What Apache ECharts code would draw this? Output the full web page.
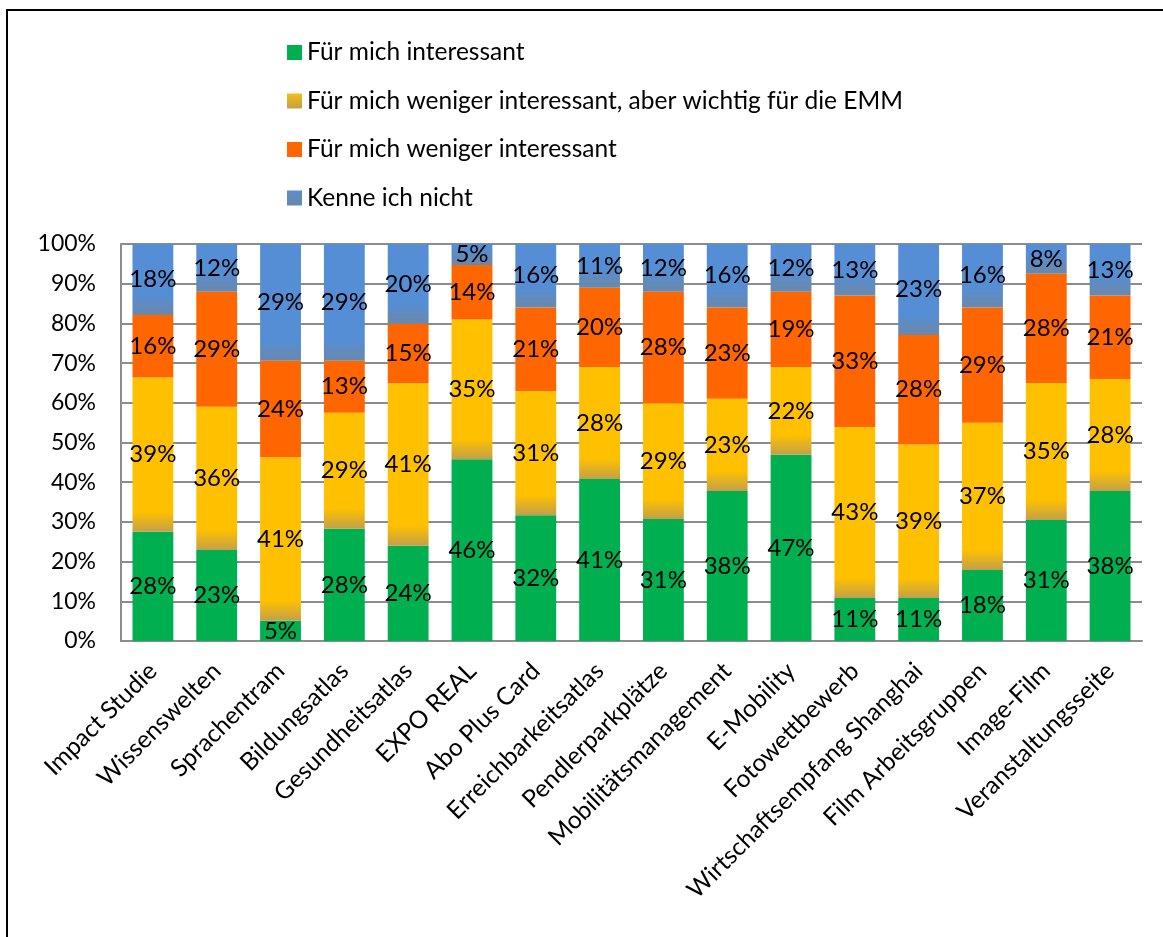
<!DOCTYPE html>
<html>
<head>
<meta charset="utf-8">
<script src="https://cdn.jsdelivr.net/npm/echarts@6/dist/echarts.min.js"></script>
<style>
  html, body { margin: 0; padding: 0; background: #fff; }
  #chart { width: 1163px; height: 937px; }
</style>
</head>
<body>
<div id="chart"></div>
<script>
// Survey: interest in EMM projects (shares in percent)
const categories = [
  'Impact Studie', 'Wissenswelten', 'Sprachentram', 'Bildungsatlas',
  'Gesundheitsatlas', 'EXPO REAL', 'Abo Plus Card', 'Erreichbarkeitsatlas',
  'Pendlerparkplätze', 'Mobilitätsmanagement', 'E-Mobility', 'Fotowettbewerb',
  'Wirtschaftsempfang Shanghai', 'Film Arbeitsgruppen', 'Image-Film', 'Veranstaltungsseite'
];

const seriesNames = [
  'Für mich interessant',
  'Für mich weniger interessant, aber wichtig für die EMM',
  'Für mich weniger interessant',
  'Kenne ich nicht'
];

const interessant   = [27.5, 22.9, 5.1, 28.3, 24.0, 45.8, 31.7, 40.8, 30.7, 37.8, 46.9, 10.8, 10.8, 17.9, 30.5, 37.8];
const wichtigEMM    = [38.9, 36.1, 41.2, 29.2, 40.9, 35.2, 31.3, 28.2, 29.2, 23.2, 22.1, 43.1, 38.7, 37.1, 34.5, 28.2];
const wenigerInter  = [15.7, 29.0, 24.3, 13.1, 15.0, 13.7, 21.0, 20.0, 28.1, 23.0, 19.0, 33.1, 27.6, 29.0, 27.5, 21.0];
const kenneNicht    = [17.9, 12.0, 29.4, 29.4, 20.1, 5.3, 16.0, 11.0, 12.0, 16.0, 12.0, 13.0, 22.9, 16.0, 7.5, 13.0];

const yTicks = [0, 10, 20, 30, 40, 50, 60, 70, 80, 90, 100];

const FONT = 'Lato, "Open Sans", sans-serif';
const GREEN = '#00B050';
const GOLD = '#FFC000';
const GOLD_DARK = '#C2A04A';
const ORANGE = '#FF6600';
const BLUE = '#558ED5';
const BLUE_DARK = '#6B88A8';

// plot height in px divided by 100 %, used to keep the shaded foot band a fixed size
const PX_PER_PERCENT = 397 / 100;
const BAND_PX = 20;

function shadedFoot(main, dark, v) {
  const f = Math.min(0.9, BAND_PX / Math.max(v * PX_PER_PERCENT, 1));
  return new echarts.graphic.LinearGradient(0, 0, 0, 1, [
    { offset: 0, color: main },
    { offset: 1 - f, color: main },
    { offset: 1, color: dark }
  ]);
}

function shadedData(values, main, dark) {
  return values.map(v => ({ value: v, itemStyle: { color: shadedFoot(main, dark, v) } }));
}

const labelStyle = {
  show: true,
  position: 'inside',
  color: '#000',
  fontFamily: FONT,
  fontSize: 24,
  formatter: p => Math.round(p.value) + '%'
};

function barSeries(name, data, color) {
  return {
    name: name,
    type: 'bar',
    stack: 'total',
    barWidth: '64%',
    data: data,
    itemStyle: { color: color },
    label: labelStyle,
    emphasis: { disabled: true }
  };
}

const chart = echarts.init(document.getElementById('chart'), null, { renderer: 'canvas' });

chart.setOption({
  animation: false,
  backgroundColor: '#fff',
  textStyle: { fontFamily: FONT },
  graphic: [{
    type: 'rect',
    shape: { x: 7, y: 10, width: 1300, height: 1100 },
    style: { fill: 'none', stroke: '#000', lineWidth: 2 },
    silent: true
  }],
  legend: {
    orient: 'vertical',
    left: 282,
    top: 35,
    itemWidth: 15,
    itemHeight: 15,
    itemGap: 23.5,
    icon: 'rect',
    data: seriesNames,
    textStyle: { color: '#000', fontFamily: FONT, fontSize: 24.5, lineHeight: 24.5 }
  },
  grid: {
    left: 121,
    right: 21,
    top: 244,
    bottom: 296,
    containLabel: false,
    outerBoundsMode: 'none'
  },
  xAxis: {
    type: 'category',
    data: categories,
    axisLine: { lineStyle: { color: '#8C8C8C', width: 2 } },
    axisTick: { show: false },
    axisLabel: {
      rotate: 45,
      interval: 0,
      margin: 26,
      color: '#000',
      fontFamily: FONT,
      fontSize: 24.5
    }
  },
  yAxis: {
    type: 'value',
    min: yTicks[0],
    max: yTicks[yTicks.length - 1],
    interval: 10,
    axisLine: { show: true, lineStyle: { color: '#8C8C8C', width: 2 } },
    axisTick: { show: false },
    splitLine: { lineStyle: { color: '#8C8C8C', width: 2 } },
    axisLabel: {
      margin: 25,
      color: '#000',
      fontFamily: FONT,
      fontSize: 23,
      formatter: v => v + '%'
    }
  },
  series: [
    barSeries(seriesNames[0], interessant, GREEN),
    barSeries(seriesNames[1], shadedData(wichtigEMM, GOLD, GOLD_DARK),
      new echarts.graphic.LinearGradient(0, 0, 0, 1, [
        { offset: 0, color: '#F4BE10' }, { offset: 1, color: GOLD_DARK }
      ])),
    barSeries(seriesNames[2], wenigerInter, ORANGE),
    barSeries(seriesNames[3], shadedData(kenneNicht, BLUE, BLUE_DARK),
      new echarts.graphic.LinearGradient(0, 0, 0, 1, [
        { offset: 0, color: '#5B8DCB' }, { offset: 1, color: BLUE_DARK }
      ]))
  ]
});
</script>
</body>
</html>
